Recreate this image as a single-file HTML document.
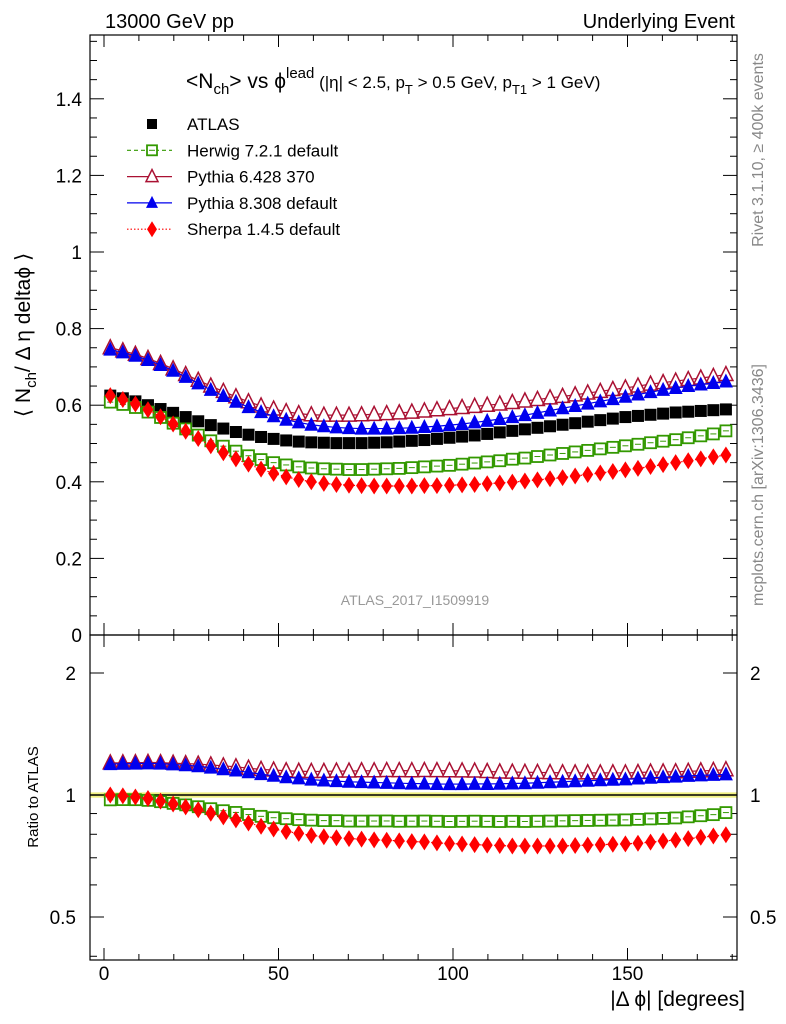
<!DOCTYPE html>
<html><head><meta charset="utf-8">
<style>
body{margin:0;background:#fff;}
svg{display:block;font-family:"Liberation Sans",sans-serif;}
</style></head>
<body>
<svg id="c" width="786" height="1024" viewBox="0 0 786 1024">
<text x="105" y="28" font-size="20">13000 GeV pp</text>
<text x="735" y="28" font-size="20" text-anchor="end">Underlying Event</text>
<text transform="translate(763,150) rotate(-90)" font-size="16" fill="#888" text-anchor="middle">Rivet 3.1.10, ≥ 400k events</text>
<text transform="translate(763,485) rotate(-90)" font-size="16" fill="#888" text-anchor="middle">mcplots.cern.ch [arXiv:1306.3436]</text>
<text x="415" y="605" font-size="14" fill="#999" text-anchor="middle">ATLAS_2017_I1509919</text>
<text x="186" y="88" font-size="21">&lt;N<tspan font-size="15" dy="6">ch</tspan><tspan dy="-6">&gt; vs ϕ</tspan><tspan font-size="15" dy="-10">lead</tspan><tspan font-size="17" dy="10"> (|η| &lt; 2.5, p</tspan><tspan font-size="13" dy="6">T</tspan><tspan font-size="17" dy="-6"> &gt; 0.5 GeV, p</tspan><tspan font-size="13" dy="6">T1</tspan><tspan font-size="17" dy="-6"> &gt; 1 GeV)</tspan></text>
<text transform="translate(30,335) rotate(-90)" font-size="21" text-anchor="middle">⟨ N<tspan font-size="15" dy="6">ch</tspan><tspan dy="-6">/ Δ η deltaϕ ⟩</tspan></text>
<text transform="translate(38,797) rotate(-90)" font-size="15" text-anchor="middle">Ratio to ATLAS</text>
<text x="745" y="1006" font-size="21" text-anchor="end">|Δ ϕ| [degrees]</text>
<g id="g"></g>
</svg>
<script>
const xCenters=[1.8,5.4,9,12.6,16.2,19.8,23.4,27,30.6,34.2,37.8,41.4,45,48.6,52.2,55.8,59.4,63,66.6,70.2,73.8,77.4,81,84.6,88.2,91.8,95.4,99,102.6,106.2,109.8,113.4,117,120.6,124.2,127.8,131.4,135,138.6,142.2,145.8,149.4,153,156.6,160.2,163.8,167.4,171,174.6,178.2];
const atlas=[0.625,0.618,0.610,0.600,0.590,0.580,0.569,0.558,0.548,0.539,0.530,0.523,0.517,0.512,0.508,0.505,0.503,0.502,0.501,0.501,0.501,0.502,0.503,0.505,0.507,0.509,0.512,0.515,0.518,0.521,0.525,0.529,0.533,0.537,0.541,0.545,0.549,0.553,0.557,0.561,0.565,0.569,0.572,0.575,0.578,0.581,0.583,0.585,0.587,0.589];
const herwig=[0.608,0.602,0.594,0.582,0.568,0.553,0.538,0.522,0.507,0.493,0.480,0.468,0.458,0.450,0.444,0.439,0.436,0.434,0.433,0.432,0.432,0.433,0.434,0.435,0.437,0.439,0.441,0.443,0.446,0.449,0.452,0.455,0.459,0.462,0.466,0.470,0.474,0.478,0.482,0.486,0.490,0.494,0.498,0.502,0.506,0.510,0.515,0.520,0.525,0.533];
const pythia6=[0.750,0.742,0.733,0.722,0.709,0.695,0.680,0.665,0.650,0.636,0.622,0.609,0.598,0.590,0.583,0.578,0.575,0.574,0.574,0.574,0.575,0.576,0.578,0.580,0.582,0.585,0.588,0.591,0.594,0.597,0.600,0.603,0.607,0.611,0.615,0.619,0.623,0.627,0.632,0.636,0.641,0.645,0.650,0.655,0.659,0.663,0.667,0.671,0.675,0.680];
const pythia8=[0.745,0.738,0.729,0.718,0.705,0.690,0.674,0.657,0.640,0.624,0.609,0.595,0.582,0.571,0.562,0.555,0.549,0.545,0.542,0.540,0.539,0.539,0.539,0.540,0.541,0.543,0.545,0.548,0.551,0.555,0.559,0.564,0.569,0.574,0.580,0.586,0.592,0.598,0.604,0.610,0.616,0.622,0.628,0.634,0.640,0.645,0.650,0.654,0.658,0.662];
const sherpa=[0.625,0.615,0.603,0.588,0.570,0.551,0.532,0.513,0.494,0.476,0.460,0.446,0.433,0.422,0.413,0.406,0.400,0.396,0.393,0.391,0.390,0.389,0.389,0.389,0.389,0.390,0.390,0.391,0.392,0.393,0.395,0.397,0.399,0.402,0.405,0.408,0.411,0.415,0.419,0.423,0.427,0.431,0.435,0.440,0.445,0.450,0.455,0.460,0.465,0.470];
const xTicks=[0,50,100,150];
const yTicks=[0,0.2,0.4,0.6,0.8,1,1.2,1.4];
const yTickLabels=["0","0.2","0.4","0.6","0.8","1","1.2","1.4"];
const rTicks=[0.5,1,2];
const rTickLabels=["0.5","1","2"];

const L=90,R=737,T=35,M=635,B=960;
const sx=v=>104+(v-0)*3.49;
const sy=v=>635-v*383;
const sr=v=>795-Math.log2(v)*122;
const NS="http://www.w3.org/2000/svg";
const g=document.getElementById('g');
function el(t,a,p){const e=document.createElementNS(NS,t);for(const k in a)e.setAttribute(k,a[k]);(p||g).appendChild(e);return e;}

const band=el('rect',{x:L,y:sr(1.015),width:R-L,height:sr(0.985)-sr(1.015),fill:'#f0f080'});


const one=el('line',{x1:L,x2:R,y1:sr(1),y2:sr(1),stroke:'#000','stroke-width':1.5});



for(const [y1,y2,n] of [[T,M,'main-frame'],[M,B,'ratio-frame']]){
  const f=el('rect',{x:L,y:y1,width:R-L,height:y2-y1,fill:'none',stroke:'#000','stroke-width':1.2});
  
  
}
for(let v=0;v<=180;v+=10){
  const major=v%50===0;const len=major?12:6;const x=sx(v);
  for(const [yb,dir] of [[M,-1],[T,1],[B,-1],[M,1]]){
    el('line',{x1:x,x2:x,y1:yb,y2:yb+dir*len,stroke:'#000'});
  }
}
xTicks.forEach(v=>{const t=el('text',{x:sx(v),y:980,'font-size':19,'text-anchor':'middle'});t.textContent=v;

});
for(let i=0;i<=31;i++){const v=i*0.05;const y=sy(v);if(y<T)break;const major=i%4===0;const len=major?14:7;
  el('line',{x1:L,x2:L+len,y1:y,y2:y,stroke:'#000'});el('line',{x1:R,x2:R-len,y1:y,y2:y,stroke:'#000'});}
yTicks.forEach((v,i)=>{const t=el('text',{x:82,y:sy(v)+7,'font-size':19,'text-anchor':'end'});t.textContent=yTickLabels[i];

});
[0.4,0.5,0.6,0.7,0.8,0.9,1,2].forEach(v=>{const y=sr(v);const major=rTicks.includes(v);const len=major?14:7;
  el('line',{x1:L,x2:L+len,y1:y,y2:y,stroke:'#000'});el('line',{x1:R,x2:R-len,y1:y,y2:y,stroke:'#000'});});
rTicks.forEach((v,i)=>{
  const t=el('text',{x:76,y:sr(v)+7,'font-size':19,'text-anchor':'end'});t.textContent=rTickLabels[i];
  
  
  const t2=el('text',{x:750,y:sr(v)+7,'font-size':19});t2.textContent=rTickLabels[i];
  
  
});

function marker(p,type,col,x,y,s){
  if(type==='sq') el('rect',{x:x-s,y:y-s,width:2*s,height:2*s,fill:col},p);
  if(type==='osq'){el('rect',{x:x-s+1,y:y-s+1,width:2*s-2,height:2*s-2,fill:'#fff',stroke:col,'stroke-width':1.8},p);el('line',{x1:x-3,x2:x+3,y1:y,y2:y,stroke:col},p);}
  if(type==='otri') el('polygon',{points:`${x},${y-s-1} ${x-s},${y+s-1} ${x+s},${y+s-1}`,fill:'#fff',stroke:col,'stroke-width':1.5},p);
  if(type==='tri') el('polygon',{points:`${x},${y-s-1} ${x-s},${y+s-1} ${x+s},${y+s-1}`,fill:col},p);
  if(type==='dia') el('polygon',{points:`${x},${y-s-2} ${x-s+1},${y} ${x},${y+s+2} ${x+s-1},${y}`,fill:col},p);
}
const series=[
 {n:'herwig',d:herwig,c:'#339900',m:'osq',dash:'4,3',s:6.5},
 {n:'pythia6',d:pythia6,c:'#aa1133',m:'otri',dash:'',s:7},
 {n:'pythia8',d:pythia8,c:'#0000ee',m:'tri',dash:'',s:7},
 {n:'sherpa',d:sherpa,c:'#ff0000',m:'dia',dash:'1.5,2',s:6.5},
];
const ga=el('g',{});


xCenters.forEach((x,i)=>marker(ga,'sq','#000',sx(x),sy(atlas[i]),6));
series.forEach(s=>{
  const gm=el('g',{});
  
  
  el('polyline',{points:xCenters.map((x,i)=>sx(x)+','+sy(s.d[i])).join(' '),fill:'none',stroke:s.c,'stroke-width':1.2,'stroke-dasharray':s.dash},gm);
  xCenters.forEach((x,i)=>marker(gm,s.m,s.c,sx(x),sy(s.d[i]),s.s));
  const gr=el('g',{});
  
  
  el('polyline',{points:xCenters.map((x,i)=>sx(x)+','+sr(s.d[i]/atlas[i])).join(' '),fill:'none',stroke:s.c,'stroke-width':1.2,'stroke-dasharray':s.dash},gr);
  xCenters.forEach((x,i)=>marker(gr,s.m,s.c,sx(x),sr(s.d[i]/atlas[i]),s.s));
});
const labels=['ATLAS','Herwig 7.2.1 default','Pythia 6.428 370','Pythia 8.308 default','Sherpa 1.4.5 default'];
const lg=[{c:'#000',m:'sq',dash:null},...series];
labels.forEach((lab,i)=>{
  const y=124+i*26.3;
  const gl=el('g',{});
  
  
  if(i>0) el('line',{x1:127,x2:172,y1:y,y2:y,stroke:lg[i].c,'stroke-width':1.2,'stroke-dasharray':lg[i].dash},gl);
  marker(gl,lg[i].m,lg[i].c,152,y,i===0?5:6);
  const t=el('text',{x:187,y:y+6,'font-size':17},gl);t.textContent=lab;
});
</script>
</body></html>
